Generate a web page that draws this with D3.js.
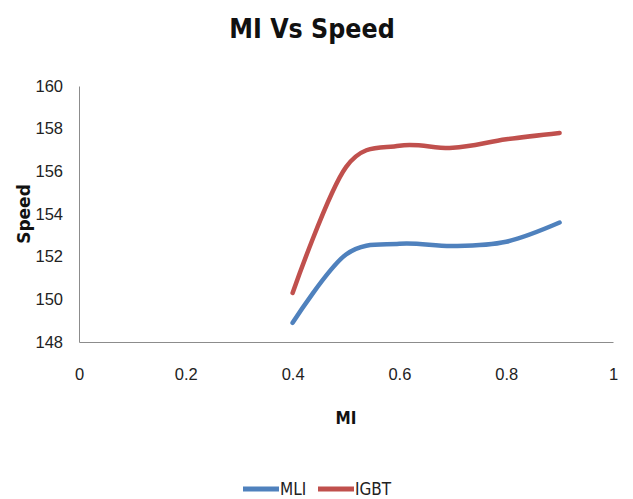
<!DOCTYPE html>
<html>
<head>
<meta charset="utf-8">
<script src="https://cdn.jsdelivr.net/npm/d3@7"></script>
<style>
  body { margin: 0; background: #fff; }
  svg { font-family: "DejaVu Sans Condensed", "Liberation Sans Narrow", sans-serif; }
</style>
</head>
<body>
<div id="chart"></div>
<script>
const mi = [0.4, 0.5, 0.6, 0.7, 0.8, 0.9];
const mliSpeed = [148.9, 152.1, 152.6, 152.5, 152.7, 153.6];
const igbtSpeed = [150.3, 156.2, 157.2, 157.1, 157.5, 157.8];
const xTicks = [0, 0.2, 0.4, 0.6, 0.8, 1];
const yTicks = [148, 150, 152, 154, 156, 158, 160];

const series = [
  { name: "MLI", values: mliSpeed, color: "#4f81bd" },
  { name: "IGBT", values: igbtSpeed, color: "#c0504d" },
];

const width = 633;
const height = 499;
const marginLeft = 79;
const marginRight = 20;
const marginTop = 86;
const marginBottom = 157;

const x = d3.scaleLinear().domain([0, 1]).range([marginLeft, width - marginRight]);
const y = d3.scaleLinear().domain([148, 160]).range([height - marginBottom, marginTop]);

const svg = d3.select("#chart").append("svg")
  .attr("width", width)
  .attr("height", height)
  .attr("viewBox", [0, 0, width, height]);

svg.append("text")
  .attr("x", 312)
  .attr("y", 38)
  .attr("text-anchor", "middle")
  .attr("font-size", 26.5)
  .attr("font-weight", "bold")
  .attr("fill", "#111")
  .text("MI Vs Speed");

// axes
svg.append("g")
  .attr("transform", `translate(0,${y(148)})`)
  .call(d3.axisBottom(x).tickValues(xTicks).tickSize(0).tickPadding(26).tickFormat(d3.format("")))
  .call((g) => g.select(".domain").attr("stroke", "#8c8c8c"))
  .call((g) => g.selectAll("text").attr("font-size", 16.5).attr("fill", "#222").attr("font-family", null));

svg.append("g")
  .attr("transform", `translate(${marginLeft},0)`)
  .call(d3.axisLeft(y).tickValues(yTicks).tickSize(0).tickPadding(16))
  .call((g) => g.select(".domain").attr("stroke", "#8c8c8c"))
  .call((g) => g.selectAll("text").attr("font-size", 16.5).attr("fill", "#222").attr("font-family", null));

svg.append("text")
  .attr("transform", `translate(30,${(y(148) + y(160)) / 2}) rotate(-90)`)
  .attr("text-anchor", "middle")
  .attr("font-family", "'DejaVu Sans', sans-serif")
  .attr("font-size", 17)
  .attr("font-weight", "bold")
  .attr("fill", "#111")
  .text("Speed");

svg.append("text")
  .attr("x", 346)
  .attr("y", 424)
  .attr("text-anchor", "middle")
  .attr("font-size", 17)
  .attr("font-weight", "bold")
  .attr("fill", "#111")
  .text("MI");

const line = d3.line()
  .x((d, i) => x(mi[i]))
  .y((d) => y(d))
  .curve(d3.curveCardinal.tension(0));

svg.append("g")
  .selectAll("path")
  .data(series)
  .join("path")
  .attr("fill", "none")
  .attr("stroke", (d) => d.color)
  .attr("stroke-width", 4.5)
  .attr("stroke-linecap", "round")
  .attr("d", (d) => line(d.values));

// legend
const legendX = [243, 318];
const legend = svg.append("g")
  .selectAll("g")
  .data(series)
  .join("g")
  .attr("transform", (d, i) => `translate(${legendX[i]},489)`);

legend.append("line")
  .attr("x2", 36)
  .attr("stroke", (d) => d.color)
  .attr("stroke-width", 5);

legend.append("text")
  .attr("x", 37)
  .attr("dy", "0.35em")
  .attr("font-size", 17)
  .attr("fill", "#222")
  .text((d) => d.name);
</script>
</body>
</html>
